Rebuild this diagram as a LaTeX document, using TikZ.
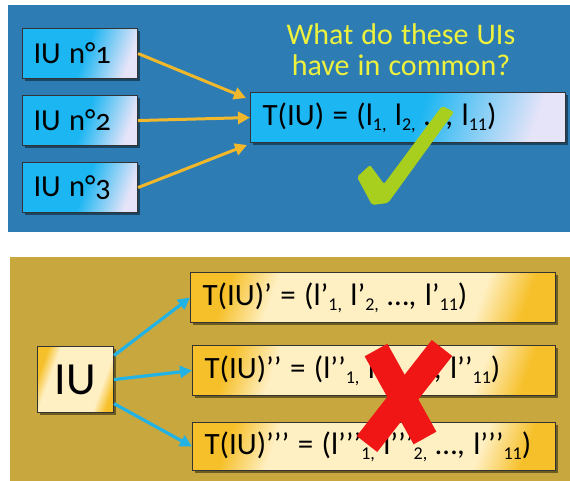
\documentclass[tikz,border=0pt]{standalone}
\usepackage{fontspec}
\setmainfont[WordSpace=1.2]{Carlito}
\usetikzlibrary{arrows.meta,shadows}
\definecolor{bluebg}{HTML}{2E7CB4}
\definecolor{goldbg}{HTML}{C8A83E}
\definecolor{cyanbox}{HTML}{1CB6F2}
\definecolor{lavbox}{HTML}{E6E4F8}
\definecolor{goldbox}{HTML}{F6C02A}
\definecolor{creambox}{HTML}{FFF0C4}
\definecolor{arrowy}{HTML}{F2B82C}
\definecolor{arrowc}{HTML}{22B2E4}
\definecolor{checkg}{HTML}{A8CF1E}
\definecolor{redx}{HTML}{F01616}
\definecolor{titley}{HTML}{EEF23C}
\pgfdeclarehorizontalshading{blueshade}{100bp}{color(0bp)=(cyanbox); color(52bp)=(cyanbox); color(75bp)=(lavbox); color(100bp)=(lavbox)}
\pgfdeclarehorizontalshading{goldshade}{100bp}{color(0bp)=(goldbox); color(25bp)=(goldbox); color(33bp)=(creambox); color(68bp)=(creambox); color(76bp)=(goldbox); color(100bp)=(goldbox)}
\newcommand\subs[1]{\raisebox{-0.33ex}{\fontsize{18}{18}\selectfont #1}}
\tikzset{
  ubox/.style={draw=black!80, line width=1.1pt, anchor=north west, align=flush left, text=black,
    font=\fontsize{31}{33}\selectfont,
    drop shadow={shadow xshift=2.5pt, shadow yshift=-2.5pt, opacity=.45, fill=black}},
  bbox/.style={ubox, shade, shading=blueshade, shading angle=-20},
  gbox/.style={ubox, shade, shading=goldshade, shading angle=-20},
  smallbox/.style={bbox, minimum width=115pt, minimum height=50pt, text width=93pt, inner xsep=11pt, font=\fontsize{30.5}{32}\selectfont},
  yarrow/.style={draw=arrowy, line width=3pt, -{Triangle[length=12pt,width=12pt]}},
  carrow/.style={draw=arrowc, line width=3.2pt, -{Triangle[length=12pt,width=12pt]}},
}
\begin{document}
\begin{tikzpicture}[x=1pt,y=-1pt]
\useasboundingbox[fill=white] (0,0) rectangle (570,481);
\fill[bluebg] (8,5) rectangle (570,232);
\fill[goldbg] (10,257) rectangle (570,481);
% top panel
\node[smallbox] (iu1) at (22,28) {IU n°\addfontfeature{Numbers=OldStyle}1};
\node[smallbox] (iu2) at (22,95) {IU n°\addfontfeature{Numbers=OldStyle}2};
\node[smallbox] (iu3) at (22,162) {IU n°\addfontfeature{Numbers=OldStyle}3};
\node[bbox, minimum height=50pt, text width=291pt, inner xsep=12pt] (t) at (250,92) {T(IU) = (l\subs{1,} l\subs{2,} …, l\subs{11})};
\node[text=titley, font=\fontsize{30}{31}\selectfont, align=flush center] (q) at (401,50) {What do these UIs\\have in common?};
\coordinate (tip1) at (246,98);
\coordinate (tip3) at (247,145);
\draw[yarrow] (iu1.east) -- (tip1);
\draw[yarrow] (iu2.east) -- (t.west);
\draw[yarrow] (iu3.east) -- (tip3);
\fill[checkg, rounded corners=2pt] (357,177) -- (370,165) -- (384,184) -- (442,106) -- (454,112) -- (388,203) -- (372,205) -- cycle;
% bottom panel
\node[gbox, minimum width=76pt, minimum height=66pt, inner sep=0pt, align=center, font=\fontsize{46}{48}\selectfont] (iu) at (37,346) {IU};
\node[gbox, minimum height=50pt, text width=341pt, inner xsep=12pt] (p1) at (190,272) {T(IU)’ = (l’\subs{1,} l’\subs{2,} …, l’\subs{11})};
\node[gbox, minimum height=50pt, text width=339pt, inner xsep=12pt] (p2) at (192,345) {T(IU)’’ = (l’’\subs{1,} l’’\subs{2,} …, l’’\subs{11})};
\node[gbox, minimum height=48pt, text width=339pt, inner xsep=12pt] (p3) at (192,422) {T(IU)’’’ = (l’’’\subs{1,} l’’’\subs{2,} …, l’’’\subs{11})};
\draw[carrow] (iu.32) -- (p1.west);
\draw[carrow] (iu.east) -- (p2.west);
\draw[carrow] (iu.-32) -- (p3.west);
\draw[redx, line width=26pt] (376,350) -- (425,438);
\draw[redx, line width=26pt] (442,348) -- (367,444);
\end{tikzpicture}
\end{document}
